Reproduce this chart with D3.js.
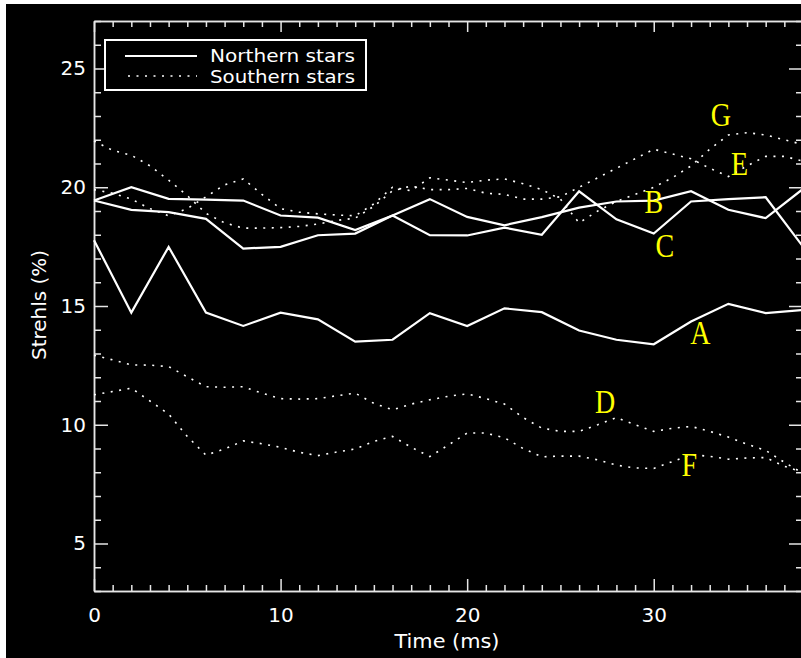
<!DOCTYPE html>
<html>
<head>
<meta charset="utf-8">
<script src="https://cdn.jsdelivr.net/npm/d3@7"></script>
<style>
  body { margin: 0; background: #fff; }
  svg { display: block; }
  .axis path, .axis line { stroke: #e6e6e6; stroke-width: 1.5; }
  .axis text { fill: #fff; font-family: "DejaVu Sans", sans-serif; font-size: 20px; }
</style>
</head>
<body>
<div class="canvas"></div>
<script>
// ---- data ----
const timeNorth = d3.range(0, 39, 2);
const timeSouth = d3.range(0, 39, 1);

const northA = [17.77, 14.72, 17.49, 14.72, 14.16, 14.72, 14.44, 13.5, 13.58, 14.7,
                14.16, 14.9, 14.74, 13.97, 13.58, 13.39, 14.35, 15.09, 14.7, 14.83];
const northB = [19.44, 20.0, 19.51, 19.48, 19.44, 18.81, 18.72, 18.2, 18.81, 19.5,
                18.75, 18.4, 18.74, 19.14, 19.4, 19.44, 19.83, 19.05, 18.7, 19.93];
const northC = [19.44, 19.05, 18.95, 18.67, 17.42, 17.49, 17.98, 18.05, 18.81, 17.98,
                17.97, 18.3, 18.0, 19.83, 18.65, 18.05, 19.4, 19.5, 19.58, 17.5];

const southD = [12.93, 12.73, 12.52, 12.51, 12.45, 12.02, 11.6, 11.58, 11.6, 11.33,
                11.1, 11.08, 11.1, 11.22, 11.33, 10.9, 10.63, 10.87, 11.05, 11.2,
                11.3, 11.1, 10.87, 10.3, 9.86, 9.72, 9.72, 10.0, 10.3, 10.0,
                9.72, 9.85, 9.93, 9.72, 9.48, 9.18, 8.92, 8.42, 7.95];
const southE = [21.95, 21.55, 21.35, 20.9, 20.3, 19.65, 18.9, 18.5, 18.28, 18.28,
                18.3, 18.35, 18.45, 18.6, 18.7, 19.2, 19.85, 20.05, 19.9, 19.9,
                19.95, 19.75, 19.7, 19.5, 19.5, 19.6, 20.0, 20.4, 20.8, 21.2,
                21.6, 21.4, 21.2, 20.8, 20.45, 20.9, 21.3, 21.3, 21.1];
const southF = [11.26, 11.4, 11.54, 11.0, 10.45, 9.51, 8.72, 8.98, 9.32, 9.2,
                9.05, 8.84, 8.7, 8.85, 8.98, 9.3, 9.51, 9.05, 8.66, 9.15,
                9.65, 9.65, 9.45, 9.0, 8.65, 8.68, 8.68, 8.52, 8.3, 8.18,
                8.16, 8.45, 8.74, 8.67, 8.55, 8.6, 8.62, 8.25, 8.0];
const southG = [19.9, 19.75, 19.5, 19.1, 18.8, 19.1, 19.6, 20.1, 20.35, 19.7,
                19.1, 18.95, 18.88, 18.83, 18.8, 19.3, 20.0, 19.85, 20.4, 20.3,
                20.2, 20.3, 20.35, 20.15, 19.9, 19.5, 18.5, 19.0, 19.4, 19.7,
                20.0, 20.4, 20.9, 21.6, 22.2, 22.3, 22.2, 22.0, 21.8];

const xMajor = [0, 10, 20, 30];
const yMajor = [5, 10, 15, 20, 25];

const legendNames = ['Northern stars', 'Southern stars'];
const curveLabels = [
  { name: 'G', t: 33.6, v: 22.6 },
  { name: 'E', t: 34.6, v: 20.5 },
  { name: 'B', t: 30.0, v: 18.9 },
  { name: 'C', t: 30.6, v: 17.05 },
  { name: 'A', t: 32.5, v: 13.4 },
  { name: 'D', t: 27.4, v: 10.5 },
  { name: 'F', t: 31.9, v: 7.85 }
];

// ---- layout ----
let width = 801, height = 658;
let padL = 94, padR = 803, padT = 21, padB = 591;

const svg = d3.select('.canvas')
    .append('svg')
    .attr('width', width)
    .attr('height', height);

svg.append('rect')
    .attr('x', 6).attr('y', 4)
    .attr('width', width - 6).attr('height', height - 4)
    .attr('fill', '#000');

const xScale = d3.scaleLinear().domain([0, 38]).range([padL, padR]);
const yScale = d3.scaleLinear().domain([3, 27]).range([padB, padT]);

// ---- axes: minor ticks first, then majors ----
const minorX = d3.range(0, 39, 1).filter(d => d % 10 !== 0);
const minorY = d3.range(3, 28, 1).filter(d => d % 5 !== 0);

svg.append('g').attr('class', 'axis')
    .attr('transform', `translate(0,${padB})`)
    .call(d3.axisBottom(xScale).tickValues(minorX).tickSizeInner(-6).tickSizeOuter(0).tickFormat(''));
svg.append('g').attr('class', 'axis')
    .attr('transform', `translate(0,${padB})`)
    .call(d3.axisBottom(xScale).tickValues(xMajor).tickSizeInner(-12).tickSizeOuter(0).tickPadding(17));

svg.append('g').attr('class', 'axis')
    .attr('transform', `translate(0,${padT})`)
    .call(d3.axisTop(xScale).tickValues(minorX).tickSizeInner(-6).tickSizeOuter(0).tickFormat(''));
svg.append('g').attr('class', 'axis')
    .attr('transform', `translate(0,${padT})`)
    .call(d3.axisTop(xScale).tickValues(xMajor).tickSizeInner(-11).tickSizeOuter(0).tickFormat(''));

svg.append('g').attr('class', 'axis')
    .attr('transform', `translate(${padL},0)`)
    .call(d3.axisLeft(yScale).tickValues(minorY).tickSizeInner(-7).tickSizeOuter(0).tickFormat(''));
svg.append('g').attr('class', 'axis')
    .attr('transform', `translate(${padL},0)`)
    .call(d3.axisLeft(yScale).tickValues(yMajor).tickSizeInner(-14).tickSizeOuter(0).tickPadding(8));

svg.append('g').attr('class', 'axis')
    .attr('transform', `translate(${padR},0)`)
    .call(d3.axisRight(yScale).tickValues(minorY).tickSizeInner(-7).tickSizeOuter(0).tickFormat(''));
svg.append('g').attr('class', 'axis')
    .attr('transform', `translate(${padR},0)`)
    .call(d3.axisRight(yScale).tickValues(yMajor).tickSizeInner(-14).tickSizeOuter(0).tickFormat(''));

svg.selectAll('.axis .domain').attr('stroke', '#e6e6e6');

// axis titles
svg.append('text')
    .attr('x', 447).attr('y', 648)
    .attr('text-anchor', 'middle')
    .attr('fill', '#fff')
    .attr('font-family', 'DejaVu Sans, sans-serif')
    .attr('font-size', 19)
    .attr('textLength', 105).attr('lengthAdjust', 'spacingAndGlyphs')
    .text('Time (ms)');

svg.append('text')
    .attr('transform', 'translate(46,305) rotate(-90)')
    .attr('text-anchor', 'middle')
    .attr('fill', '#fff')
    .attr('font-family', 'DejaVu Sans, sans-serif')
    .attr('font-size', 19)
    .attr('textLength', 110).attr('lengthAdjust', 'spacingAndGlyphs')
    .text('Strehls (%)');

// ---- lines ----
const lineN = d3.line().x((d, i) => xScale(timeNorth[i])).y(d => yScale(d));
const lineS = d3.line().x((d, i) => xScale(timeSouth[i])).y(d => yScale(d));

svg.selectAll('.north')
    .data([northA, northB, northC])
    .enter()
    .append('path')
    .attr('class', 'north')
    .attr('d', lineN)
    .attr('fill', 'none')
    .attr('stroke', '#fff')
    .attr('stroke-width', 2.2)
    .attr('stroke-linejoin', 'miter');

svg.selectAll('.south')
    .data([southD, southE, southF, southG])
    .enter()
    .append('path')
    .attr('class', 'south')
    .attr('d', lineS)
    .attr('fill', 'none')
    .attr('stroke', '#fff')
    .attr('stroke-width', 1.6)
    .attr('stroke-dasharray', '2,6.5');

// ---- legend ----
const legend = svg.append('g');
legend.append('rect')
    .attr('x', 105).attr('y', 40)
    .attr('width', 261).attr('height', 50)
    .attr('fill', '#000')
    .attr('stroke', '#fff')
    .attr('stroke-width', 2);

legend.selectAll('line')
    .data(legendNames)
    .enter()
    .append('line')
    .attr('x1', (d, i) => i ? 128 : 125).attr('x2', 197)
    .attr('y1', (d, i) => 56 + i * 20).attr('y2', (d, i) => 56 + i * 20)
    .attr('stroke', '#fff')
    .attr('stroke-width', (d, i) => i ? 1.6 : 2.2)
    .attr('stroke-dasharray', (d, i) => i ? '2,6.5' : null);

legend.selectAll('text')
    .data(legendNames)
    .enter()
    .append('text')
    .attr('x', 210)
    .attr('y', (d, i) => 62 + i * 21)
    .attr('fill', '#fff')
    .attr('font-family', 'DejaVu Sans, sans-serif')
    .attr('font-size', 17)
    .attr('textLength', 145).attr('lengthAdjust', 'spacingAndGlyphs')
    .text(d => d);

// ---- curve letters ----
svg.selectAll('.tag')
    .data(curveLabels)
    .enter()
    .append('text')
    .attr('class', 'tag')
    .attr('transform', d => `translate(${xScale(d.t)},${yScale(d.v)}) scale(0.85,1)`)
    .attr('text-anchor', 'middle')
    .attr('fill', '#ffff00')
    .attr('font-family', 'Liberation Serif, Times New Roman, serif')
    .attr('font-size', 33)
    .text(d => d.name);
</script>
</body>
</html>
